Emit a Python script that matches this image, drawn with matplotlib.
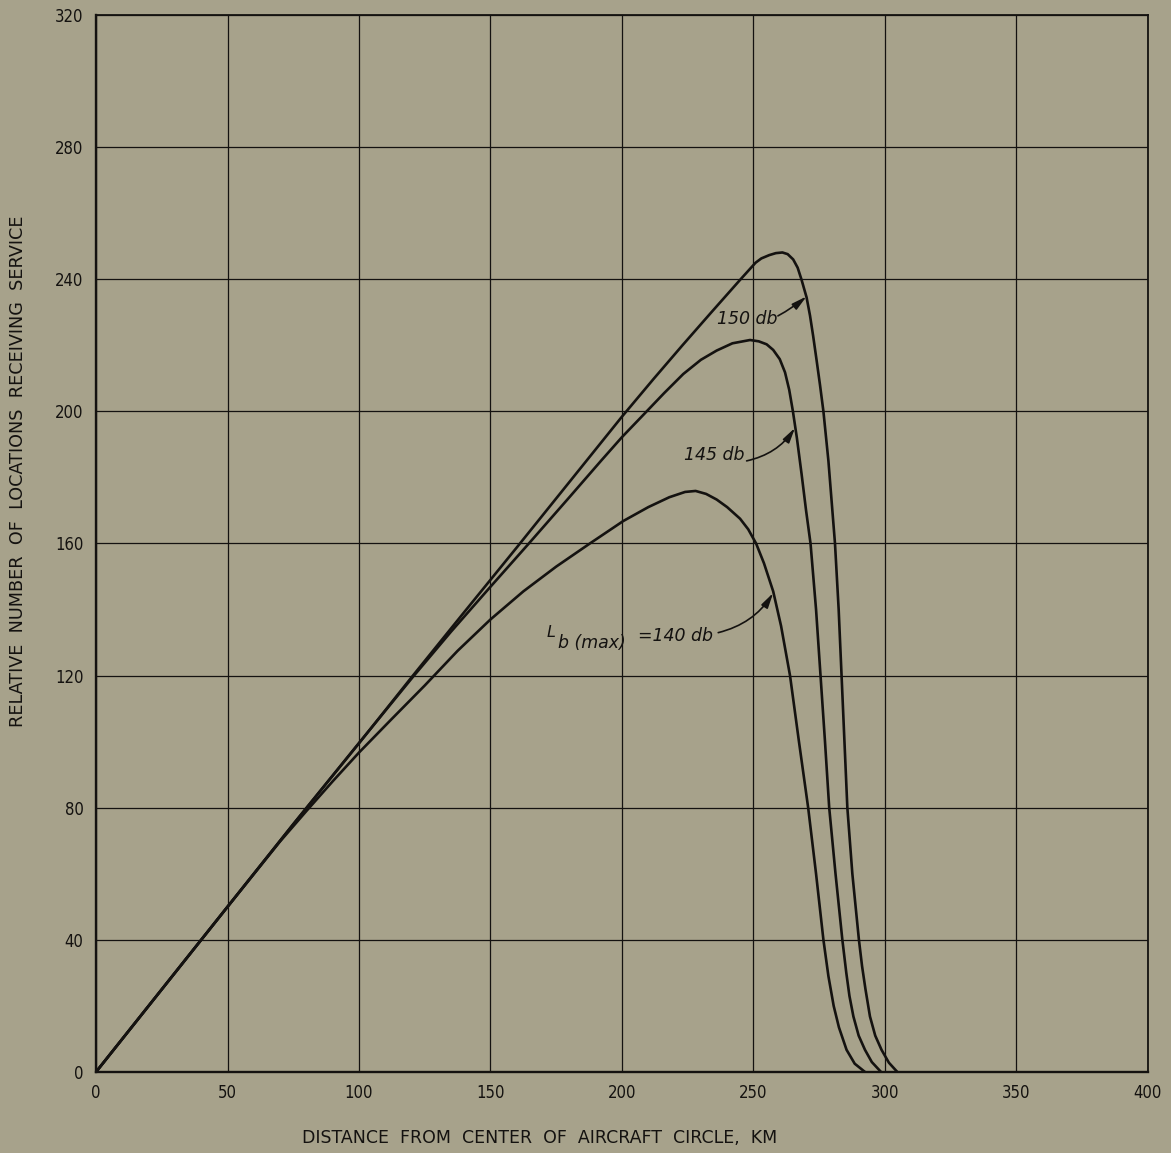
import numpy as np
import matplotlib
matplotlib.use("Agg")
import matplotlib.pyplot as plt

# values (distance km, relative number of locations)
x_150 = [0, 50, 75, 100, 120, 140, 160, 180, 200, 212, 223, 234, 244.9, 250.8,
         253, 256, 258.5, 261, 263, 265.1, 266.8, 268.3, 269.3, 270.2, 271.5, 272.7,
         274, 275.3, 276.6, 278.5, 279.8, 281, 282.4, 283.5, 284.6, 285.7, 287.6,
         290.1, 291.3, 292.6, 294.3, 296.3, 298.7, 301.5, 304.7]
y_150 = [0, 50, 75, 99.5, 119.5, 139.2, 158.8, 178.6, 198.4, 209.8, 220, 230, 239.8, 245,
         246.3, 247.3, 247.9, 248.1, 247.6, 246, 243.5, 239.8, 237, 234.5, 229, 222.8,
         215.5, 208, 200, 185, 172, 160, 140, 120, 100, 80, 60,
         40, 32, 25, 16.8, 11, 6.7, 2.8, 0]

x_145 = [0, 50, 75, 100, 120.5, 135, 150, 164.6, 180, 192, 200, 209.4, 216, 223.3, 230,
         236, 242, 248.7, 252, 255, 257.5, 260, 262, 263.6, 265, 266.5, 268.3, 270,
         271.7, 273.8, 275.5, 277.2, 278.8, 281.2, 283.8, 285.3, 286.5, 288, 290,
         292.4, 295, 298.5]
y_145 = [0, 50, 75, 99.6, 119.6, 133.3, 146.9, 160, 174, 185, 192.2, 200, 205.5, 211.3, 215.6,
         218.4, 220.6, 221.6, 221.2, 220.3, 218.6, 215.8, 211.8, 206.5, 200, 192, 181, 170,
         160, 140, 120, 100, 80, 60, 40, 30, 23, 16.8, 11,
         6.7, 3, 0]

x_140 = [0, 50, 70, 80, 90, 100, 112, 125, 137.5, 150, 162.5, 175, 187.8, 200.5, 210,
         218, 224, 228, 232, 236, 240, 244.9, 248, 251, 254, 257.5, 260.5, 263.9,
         267.3, 270.8, 273.8, 276.6, 278.5, 280.5, 282.5, 285.4, 288.5, 292.4]
y_140 = [0, 50, 69.8, 79, 88, 96.7, 106.5, 117, 127.5, 137, 145.5, 153, 160, 166.8, 171,
         174, 175.6, 175.9, 175, 173.3, 171, 167.5, 164.3, 160, 154, 145.5, 135, 120,
         100, 80, 60, 40, 29, 20, 13.5, 6.7, 2.5, 0]

x_ticks = [0, 50, 100, 150, 200, 250, 300, 350, 400]
y_ticks = [0, 40, 80, 120, 160, 200, 240, 280, 320]

bg = "#a7a28b"
ink = "#141210"

fig = plt.figure(figsize=(11.71, 11.53), dpi=100, facecolor=bg)
ax = fig.add_axes([0.082, 0.0703, 0.8983, 0.9167], facecolor=bg)

for xs, ys in [(x_150, y_150), (x_145, y_145), (x_140, y_140)]:
    ax.plot(xs, ys, color=ink, lw=1.9, solid_joinstyle="round",
            solid_capstyle="round", zorder=3)

ax.set_xlim(0, 400)
ax.set_ylim(0, 320)
ax.set_xticks(x_ticks)
ax.set_yticks(y_ticks)
ax.grid(True, color=ink, lw=0.9)
ax.tick_params(length=0, pad=9, labelsize=12, colors=ink)
for lab in ax.get_xticklabels() + ax.get_yticklabels():
    lab.set_family("DejaVu Sans")
    lab.set_stretch("condensed")
for side, w in [("left", 1.7), ("bottom", 1.7), ("top", 1.3), ("right", 1.3)]:
    ax.spines[side].set_linewidth(w)
    ax.spines[side].set_color(ink)

# curve labels with arrows
lab_kw = dict(fontsize=12.5, style="italic", color=ink, family="DejaVu Sans")
ax.text(247.5, 228, "150 db", ha="center", va="center", **lab_kw)
ax.text(235, 186.7, "145 db", ha="center", va="center", **lab_kw)
ax.text(171.2, 131.6, "L", ha="left", va="baseline", fontsize=11.5,
        style="italic", color=ink, family="DejaVu Sans")
ax.text(175.6, 128.4, "b (max)", ha="left", va="baseline", **lab_kw)
ax.text(206.1, 130.4, "=140 db", ha="left", va="baseline", **lab_kw)

arr = dict(arrowstyle="-|>,head_length=0.9,head_width=0.22", color=ink, lw=1.2,
           shrinkA=0, shrinkB=0)
ax.annotate("", xy=(270.2, 234.8), xytext=(259.3, 228.9),
            arrowprops=dict(connectionstyle="arc3,rad=0.05", **arr))
ax.annotate("", xy=(265.8, 195), xytext=(247.4, 185),
            arrowprops=dict(connectionstyle="arc3,rad=0.2", **arr))
ax.annotate("", xy=(257.5, 145), xytext=(236.6, 133),
            arrowprops=dict(connectionstyle="arc3,rad=0.2", **arr))

fig.text(0.461, 0.013, "DISTANCE  FROM  CENTER  OF  AIRCRAFT  CIRCLE,  KM",
         ha="center", va="center", fontsize=12.5, color=ink, family="DejaVu Sans")
fig.text(0.0155, 0.5915, "RELATIVE  NUMBER  OF  LOCATIONS  RECEIVING  SERVICE",
         ha="center", va="center", rotation=90, fontsize=12.7, color=ink,
         family="DejaVu Sans")

fig.savefig("out.png", dpi=100, facecolor=bg)
